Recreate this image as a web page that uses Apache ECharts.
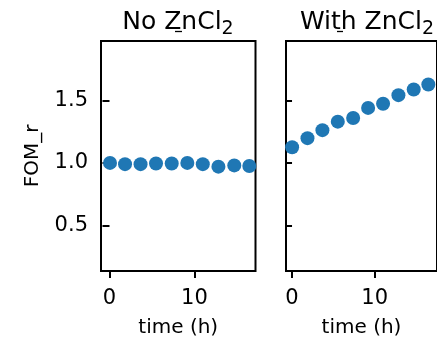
<!DOCTYPE html>
<html>
<head>
<meta charset="utf-8">
<script src="https://cdn.jsdelivr.net/npm/echarts@6/dist/echarts.min.js"></script>
<style>
  html, body { margin: 0; padding: 0; background: #fff; }
  #chart { width: 437px; height: 343px; }
</style>
</head>
<body>
<div id="chart"></div>
<script>
// Relative figure of merit over time, with and without ZnCl2
const timeNo = [0.06, 1.83, 3.66, 5.48, 7.33, 9.17, 10.99, 12.83, 14.7, 16.47];
const fomNo = [1.0, 0.99, 0.99, 0.995, 0.995, 1.0, 0.99, 0.97, 0.98, 0.975];
const timeWith = [0.01, 1.87, 3.68, 5.54, 7.4, 9.21, 11.02, 12.88, 14.73, 16.5];
const fomWith = [1.125, 1.198, 1.262, 1.33, 1.359, 1.44, 1.473, 1.542, 1.587, 1.627];
const xTicks = [0, 10];
const yTicks = [0.5, 1.0, 1.5];
const panelTitles = ['No ZnCl', 'With ZnCl'];

const FONT = 'DejaVu Sans';
const BLUE = '#1f77b4';

const chart = echarts.init(document.getElementById('chart'), null, { renderer: 'canvas' });

function xAxisFor(gridIndex, min, max) {
  return {
    type: 'value', gridIndex, min, max,
    splitLine: { show: false },
    axisLine: { show: false },
    axisTick: { show: true, length: 7, lineStyle: { color: '#000', width: 2 }, customValues: xTicks },
    axisLabel: { show: true, margin: 17, fontSize: 21, fontFamily: FONT, color: '#000', customValues: xTicks },
    name: 'time (h)', nameLocation: 'middle', nameGap: 47,
    nameTextStyle: { fontSize: 20, fontFamily: FONT, color: '#000' }
  };
}

function yAxisFor(gridIndex, showLabels) {
  return {
    type: 'value', gridIndex, min: 0.135, max: 1.975,
    splitLine: { show: false },
    axisLine: { show: false },
    axisTick: { show: true, length: 7, lineStyle: { color: '#000', width: 2 }, customValues: yTicks },
    axisLabel: {
      show: showLabels, margin: 13, fontSize: 21, fontFamily: FONT, color: '#000',
      customValues: yTicks, formatter: v => v.toFixed(1)
    },
    name: showLabels ? 'FOM_r' : '', nameLocation: 'middle', nameGap: 58,
    nameTextStyle: { fontSize: 20, fontFamily: FONT, color: '#000' }
  };
}

function titleFor(text, centerX) {
  return {
    text: '{a|' + text + '}{b|2}',
    left: centerX, top: 6, textAlign: 'center', padding: 0,
    textStyle: {
      rich: {
        a: { fontSize: 25, fontFamily: FONT, fontWeight: 'normal', color: '#000' },
        b: { fontSize: 19, fontFamily: FONT, fontWeight: 'normal', color: '#000', padding: [14, 0, 0, 0] }
      }
    }
  };
}

chart.setOption({
  animation: false,
  backgroundColor: '#fff',
  title: [titleFor(panelTitles[0], 178), titleFor(panelTitles[1], 367)],
  grid: [
    { left: 101, top: 41, width: 154.5, height: 231, show: true, borderColor: '#000', borderWidth: 2 },
    { left: 286, top: 41, width: 154.5, height: 231, show: true, borderColor: '#000', borderWidth: 2 }
  ],
  xAxis: [xAxisFor(0, -1.0, 17.2), xAxisFor(1, -0.73, 17.55)],
  yAxis: [yAxisFor(0, true), yAxisFor(1, false)],
  graphic: [
    // low marks drawn beneath the title glyphs
    { type: 'line', shape: { x1: 175, y1: 31.5, x2: 182, y2: 31.5 }, style: { stroke: '#000', lineWidth: 1.3 } },
    { type: 'line', shape: { x1: 337, y1: 31.5, x2: 343, y2: 31.5 }, style: { stroke: '#000', lineWidth: 1.3 } }
  ],
  series: [
    {
      type: 'scatter', xAxisIndex: 0, yAxisIndex: 0, symbolSize: 14,
      itemStyle: { color: BLUE, opacity: 1 },
      data: timeNo.map((t, i) => [t, fomNo[i]])
    },
    {
      type: 'scatter', xAxisIndex: 1, yAxisIndex: 1, symbolSize: 14,
      itemStyle: { color: BLUE, opacity: 1 },
      data: timeWith.map((t, i) => [t, fomWith[i]])
    }
  ]
});
</script>
</body>
</html>
